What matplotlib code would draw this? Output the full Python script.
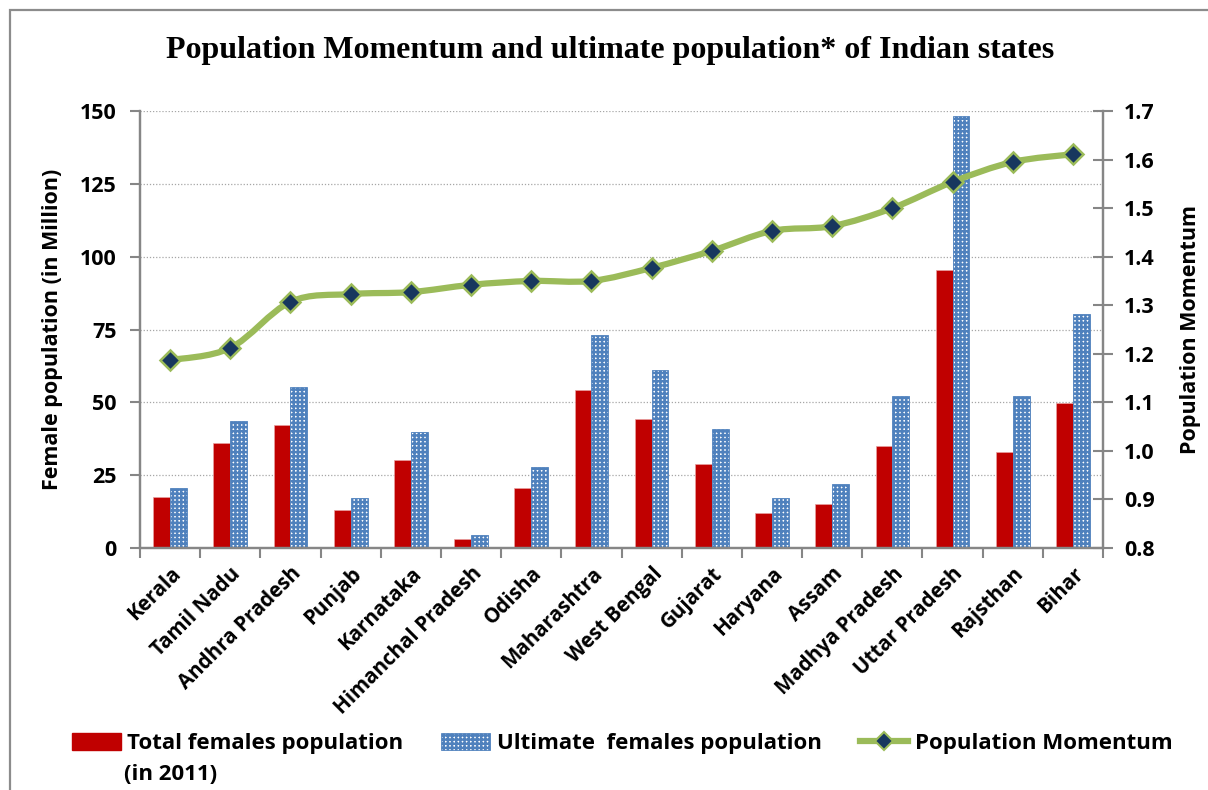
import numpy as np
import matplotlib
matplotlib.use('Agg')
import matplotlib.pyplot as plt
from matplotlib.path import Path
from matplotlib.patches import PathPatch, Patch, Rectangle
from matplotlib.lines import Line2D

states = ['Kerala', 'Tamil Nadu', 'Andhra Pradesh', 'Punjab', 'Karnataka',
          'Himanchal Pradesh', 'Odisha', 'Maharashtra', 'West Bengal', 'Gujarat',
          'Haryana', 'Assam', 'Madhya Pradesh', 'Uttar Pradesh', 'Rajsthan', 'Bihar']
females_2011 = [17.5, 36.0, 42.2, 13.0, 30.2, 3.1, 20.6, 54.2,
                44.3, 28.8, 12.0, 15.1, 35.0, 95.4, 33.0, 49.8]
females_ultimate = [20.6, 43.6, 55.1, 17.2, 39.8, 4.5, 27.8, 73.1,
                    61.1, 40.8, 17.2, 22.0, 52.2, 148.3, 52.2, 80.3]
momentum = [1.187, 1.212, 1.307, 1.323, 1.327, 1.342, 1.350, 1.350,
            1.377, 1.412, 1.453, 1.463, 1.500, 1.554, 1.595, 1.611]

RED = '#C00000'
BLUE = '#4F81BD'
GREEN = '#9BBB59'
NAVY = '#17375E'
GREY = '#868686'
FONT = 'Open Sans'

plt.rcParams['hatch.linewidth'] = 1.8

fig = plt.figure(figsize=(12.08, 7.9), dpi=100)
ax = fig.add_axes([0.1159, 0.3063, 0.7972, 0.5532])
ax2 = ax.twinx()

x = np.arange(len(states))
w = 0.28
ax.bar(x - w / 2, females_2011, w, color=RED, edgecolor='#E8A0A0', linewidth=0.5, zorder=2)
ax.bar(x + w / 2, females_ultimate, w, facecolor='white', edgecolor=BLUE,
       hatch='++++', linewidth=0.6, zorder=2)

ax.set_xlim(-0.5, len(states) - 0.5)
ax.set_ylim(0, 150)
ax.set_yticks(np.arange(0, 151, 25))
ax.yaxis.grid(True, linestyle=(0, (1, 1.5)), color='#A6A6A6', linewidth=0.9, zorder=0)
ax.set_axisbelow(True)

# category ticks sit between the groups
ax.set_xticks(x)
ax.set_xticks(np.arange(-0.5, len(states), 1), minor=True)
ax.tick_params(axis='x', which='major', length=0, pad=11)
ax.tick_params(axis='x', which='minor', length=7, width=1.5, color=GREY)
ax.set_xticklabels(states, rotation=45, ha='right', rotation_mode='anchor',
                   fontsize=14.8, fontweight='bold', family=FONT)

ax.tick_params(axis='y', length=7, width=1.5, color=GREY, pad=10)
for lab in ax.get_yticklabels():
    lab.set_fontsize(15.5)
    lab.set_fontweight('bold')
    lab.set_family(FONT)

ax2.set_ylim(0.8, 1.7)
ax2.set_yticks(np.round(np.arange(0.8, 1.71, 0.1), 1))
ax2.tick_params(axis='y', direction='inout', length=14, width=1.5, color=GREY, pad=8)
for lab in ax2.get_yticklabels():
    lab.set_fontsize(15.5)
    lab.set_fontweight('bold')
    lab.set_family(FONT)

for a in (ax, ax2):
    a.spines['top'].set_visible(False)
    for s in ('left', 'right', 'bottom'):
        a.spines[s].set_color(GREY)
        a.spines[s].set_linewidth(1.6)

# smoothed momentum line built from Bezier segments through the points
pts = np.column_stack([x, momentum]).astype(float)
verts = [pts[0]]
codes = [Path.MOVETO]
n = len(pts)
for i in range(n - 1):
    p0 = pts[i - 1] if i > 0 else pts[i]
    p1 = pts[i]
    p2 = pts[i + 1]
    p3 = pts[i + 2] if i + 2 < n else pts[i + 1]
    verts += [p1 + (p2 - p0) / 6, p2 - (p3 - p1) / 6, p2]
    codes += [Path.CURVE4] * 3
ax2.add_patch(PathPatch(Path(verts, codes), fill=False, edgecolor=GREEN,
                        linewidth=4.5, capstyle='round', zorder=3))
ax2.plot(x, momentum, linestyle='none', marker='D', markersize=10.5,
         markerfacecolor=NAVY, markeredgecolor=GREEN, markeredgewidth=1.8, zorder=4)

ax.set_ylabel('Female population (in Million)', fontsize=15.5, fontweight='bold',
              family=FONT, labelpad=12)
ax2.set_ylabel('Population Momentum', fontsize=15.5, fontweight='bold',
               family=FONT, labelpad=18)

fig.text(0.505, 0.936, 'Population Momentum and ultimate population* of Indian states',
         ha='center', va='center', fontsize=23, fontweight='bold',
         family='Liberation Serif')

handles = [Patch(facecolor=RED, edgecolor=RED),
           Patch(facecolor='white', edgecolor=BLUE, hatch='++++', linewidth=0.6),
           Line2D([], [], color=GREEN, linewidth=4.5, marker='D', markersize=9,
                  markerfacecolor=NAVY, markeredgecolor=GREEN, markeredgewidth=1.5)]
labels = ['Total females population', 'Ultimate  females population', 'Population Momentum']
fig.legend(handles, labels, loc='center left', bbox_to_anchor=(0.043, 0.059), ncol=3,
           frameon=False, handlelength=2.2, handleheight=0.8, handletextpad=0.3,
           columnspacing=1.7, prop={'family': FONT, 'weight': 'bold', 'size': 16})
fig.text(0.103, 0.019, '(in 2011)', ha='left', va='center', fontsize=16,
         fontweight='bold', family=FONT)

# outer chart frame
fig.patches.append(Rectangle((10 / 1208, -0.5), 2.0, 1.5 - 10 / 790,
                             transform=fig.transFigure, fill=False,
                             edgecolor='#8C8C8C', linewidth=1.6))

fig.savefig('out.png', dpi=100)
